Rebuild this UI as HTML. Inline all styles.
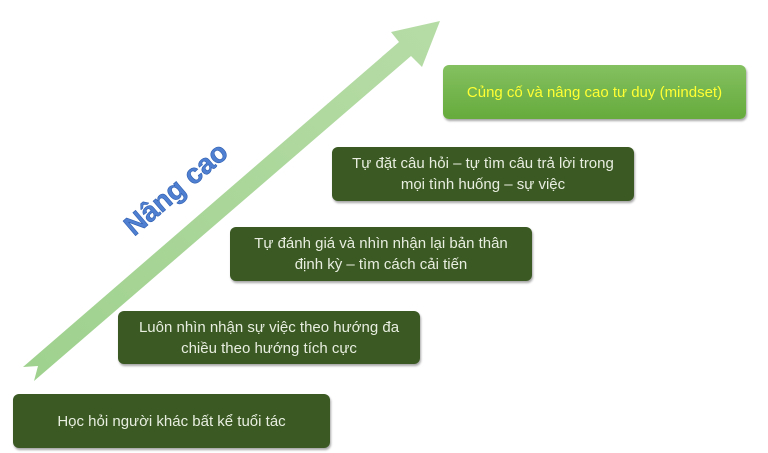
<!DOCTYPE html>
<html><head><meta charset="utf-8"><style>
body{margin:0;width:768px;height:453px;background:#fff;position:relative;overflow:hidden;font-family:"Liberation Sans","DejaVu Sans",sans-serif}
.b{position:absolute;background:#3b5923;color:#e8eee0;border-radius:6px;box-shadow:1px 2px 2px rgba(0,0,0,.35);display:flex;align-items:center;justify-content:center;text-align:center;font-size:15px;line-height:21px}
</style></head><body>
<svg width="768" height="453" style="position:absolute;left:0;top:0">
<defs><linearGradient id="g" x1="0" y1="1" x2="1" y2="0"><stop offset="0" stop-color="#9fd18e"/><stop offset="1" stop-color="#b6dca6"/></linearGradient></defs>
<polygon points="23,367 399,42 391,32 440,21 422,67 411,56 34,381 38,366" fill="url(#g)"/>
<text x="0" y="0" transform="translate(182,196) rotate(-40.5)" text-anchor="middle" font-family="Liberation Sans, sans-serif" font-weight="bold" font-size="28" fill="#4f7fd0" stroke="#2f5fb0" stroke-width="0.6">Nâng cao</text>
</svg>
<div class="b" style="left:13px;top:394px;width:317px;height:54px">Học hỏi người khác bất kể tuổi tác</div>
<div class="b" style="left:118px;top:311px;width:302px;height:53px">Luôn nhìn nhận sự việc theo hướng đa<br>chiều theo hướng tích cực</div>
<div class="b" style="left:230px;top:227px;width:302px;height:54px">Tự đánh giá và nhìn nhận lại bản thân<br>định kỳ – tìm cách cải tiến</div>
<div class="b" style="left:332px;top:147px;width:302px;height:54px">Tự đặt câu hỏi – tự tìm câu trả lời trong<br>mọi tình huống – sự việc</div>
<div class="b" style="left:443px;top:65px;width:303px;height:54px;background:linear-gradient(#84c060,#66ab3c);color:#ffff33">Củng cố và nâng cao tư duy (mindset)</div>
</body></html>
